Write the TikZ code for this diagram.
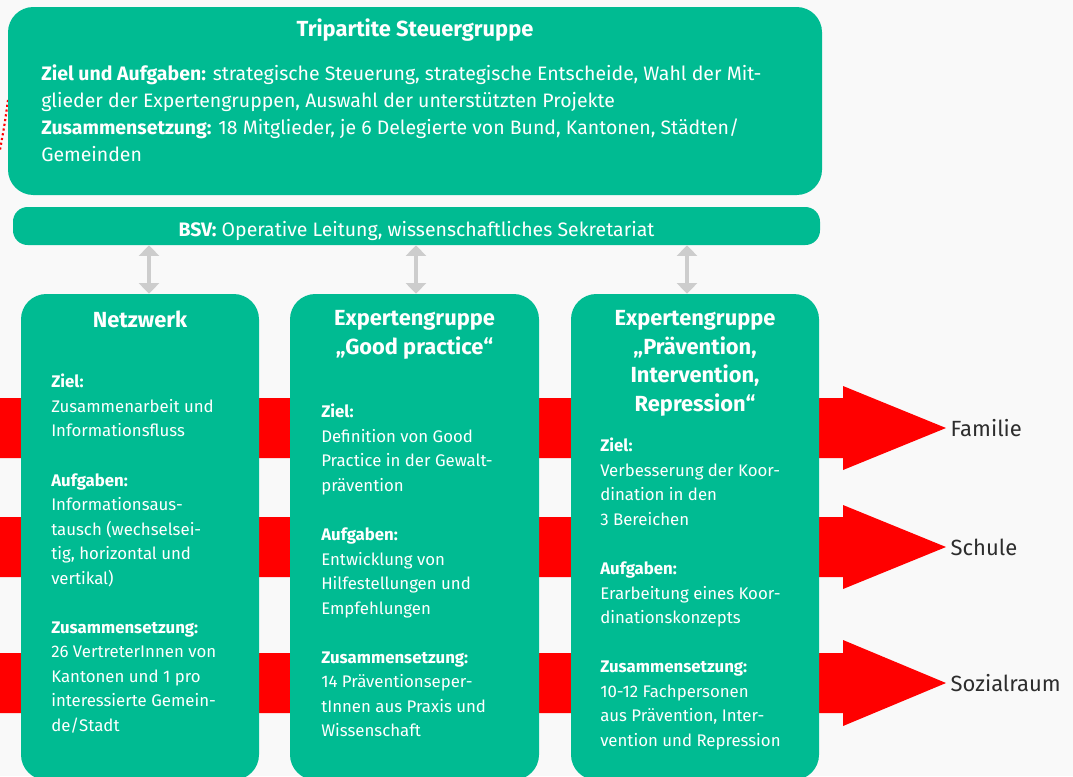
\documentclass[tikz,border=0pt]{standalone}
\usepackage{fontspec}
\setmainfont{Fira Sans}
\usepackage{xcolor}
\usepackage{tikz}
\usetikzlibrary{arrows.meta,positioning}

\definecolor{paper}{RGB}{249,249,249}
\definecolor{panelgreen}{RGB}{0,187,146}
\definecolor{flowred}{RGB}{255,0,0}
\definecolor{linkgray}{RGB}{205,205,205}
\definecolor{labelgray}{RGB}{45,45,45}

\tikzset{>={Triangle[width=15pt,length=8pt]}}
\tikzset{
  panel/.style={fill=panelgreen,rounded corners=19pt,inner sep=0pt},
  head/.style={text=white,font=\fontsize{16.4}{21.5}\selectfont\bfseries,align=center},
  body/.style={text=white,font=\fontsize{12.6}{18.4}\selectfont,align=left,anchor=north west,inner sep=0pt},
  link/.style={<->,draw=linkgray,line width=3pt},
  flow/.style={fill=flowred},
  goal/.style={text=labelgray,font=\fontsize{16.5}{18}\selectfont,anchor=west}
}

\begin{document}
\begin{tikzpicture}[x=0.75pt,y=-0.75pt]
      \fill[paper] (0,0) rectangle (1073,776);
      \useasboundingbox (0,0) rectangle (1073,776);

      % target labels and the red flows behind the columns
      \node[goal] (familie) at (946,428) {Familie};
      \node[goal] (schule) at (946,547) {Schule};
      \node[goal] (sozial) at (946,683) {Sozialraum};
      \fill[flow] (0,398) -| (843,386) -- (familie.west) -- (843,470) |- (0,458) -- cycle;
      \fill[flow] (0,517) -| (843,505) -- (schule.west) -- (843,589) |- (0,577) -- cycle;
      \fill[flow] (0,653) -| (843,640) -- (sozial.west) -- (843,726) |- (0,713) -- cycle;
      \draw[flowred,dotted,line width=1.6pt] (8,100) .. controls (5,122) .. (0,150);

      % steering group and BSV
      \node[panel,minimum width=610.5pt,minimum height=141pt] (steuer) at (415,101) {};
      \node[head] at (415,30) {Tripartite Steuergruppe};
      \node[body,font=\fontsize{14.6}{20.25}\selectfont] at (41,64)
        {\textbf{Ziel und Aufgaben:} strategische Steuerung, strategische Entscheide, Wahl der Mit-\\
         glieder der Expertengruppen, Auswahl der unterstützten Projekte\\
         \textbf{Zusammensetzung:} 18 Mitglieder, je 6 Delegierte von Bund, Kantonen, Städten/\\
         Gemeinden};
      \node[panel,rounded corners=11pt,minimum width=605.25pt,minimum height=28.5pt] (bsv) at (416.5,226) {};
      \node[text=white,font=\fontsize{14.6}{16}\selectfont] at ([yshift=-4pt]bsv) {\textbf{BSV:} Operative Leitung, wissenschaftliches Sekretariat};

      % the three groups
      \node[panel,minimum width=178.5pt,minimum height=364.5pt] (netz) at (140,537) {};
      \node[panel,minimum width=186.75pt,minimum height=364.5pt] (good) at (414.5,537) {};
      \node[panel,minimum width=186pt,minimum height=364.5pt] (praev) at (695,537) {};

      \node[head,anchor=north] at ([yshift=-9pt]netz.north) {Netzwerk};
      \node[head,anchor=north] at ([yshift=-9pt]good.north) {Expertengruppe\\„Good practice“};
      \node[head,anchor=north] at ([yshift=-9pt]praev.north) {Expertengruppe\\„Prävention,\\Intervention,\\Repression“};

      \node[body] at (51,374)
        {\textbf{Ziel:}\\
         Zusammenarbeit und\\
         Informationsfluss\\[18.4pt]
         \textbf{Aufgaben:}\\
         Informationsaus-\\
         tausch (wechselsei-\\
         tig, horizontal und\\
         vertikal)\\[18.4pt]
         \textbf{Zusammensetzung:}\\
         26 VertreterInnen von\\
         Kantonen und 1 pro\\
         interessierte Gemein-\\
         de/Stadt};
      \node[body] at (321,404)
        {\textbf{Ziel:}\\
         Definition von Good\\
         Practice in der Gewalt-\\
         prävention\\[18.4pt]
         \textbf{Aufgaben:}\\
         Entwicklung von\\
         Hilfestellungen und\\
         Empfehlungen\\[18.4pt]
         \textbf{Zusammensetzung:}\\
         14 Präventionseper-\\
         tInnen aus Praxis und\\
         Wissenschaft};
      \node[body] at (600,438)
        {\textbf{Ziel:}\\
         Verbesserung der Koor-\\
         dination in den\\
         3 Bereichen\\[18.4pt]
         \textbf{Aufgaben:}\\
         Erarbeitung eines Koor-\\
         dinationskonzepts\\[18.4pt]
         \textbf{Zusammensetzung:}\\
         10-12 Fachpersonen\\
         aus Prävention, Inter-\\
         vention und Repression};

      % links between BSV and the groups
      \draw[link] ([xshift=6.75pt]netz.north) -- ([xshift=6.75pt]netz.north |- bsv.south);
      \draw[link] ([xshift=1.1pt]good.north) -- ([xshift=1.1pt]good.north |- bsv.south);
      \draw[link] ([xshift=-6pt]praev.north) -- ([xshift=-6pt]praev.north |- bsv.south);
\end{tikzpicture}
\end{document}
